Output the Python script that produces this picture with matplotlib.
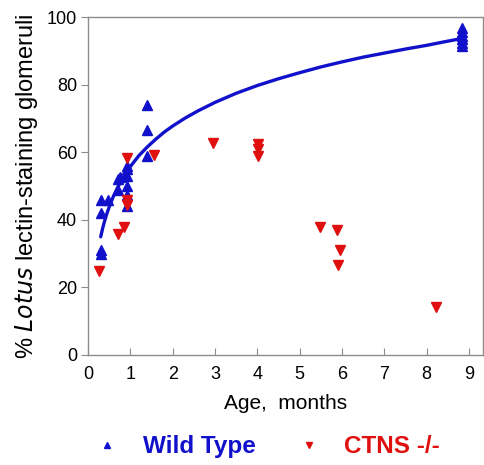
import matplotlib
matplotlib.use("Agg")
import matplotlib.pyplot as plt
from matplotlib.lines import Line2D

plt.rcParams['font.family'] = ['Liberation Sans', 'DejaVu Sans']

# Wild type (triangles up)
wt_age = [0.30, 0.30, 0.30, 0.30, 0.47, 0.70, 0.70, 0.76, 0.92, 0.92, 0.92,
          0.92, 0.92, 0.92, 1.39, 1.39, 1.39,
          8.83, 8.83, 8.83, 8.83, 8.83, 8.83]
wt_val = [30, 31, 42, 46, 46, 49, 52, 52.6, 53, 55.2, 56, 50, 47.3, 44,
          74, 66.5, 58.8,
          91.5, 92.5, 93.5, 94.5, 95.5, 96.8]

# CTNS -/- (triangles down)
ko_age = [0.27, 0.70, 0.86, 0.92, 0.92, 0.92, 1.55, 2.95, 4.02, 4.02, 4.02,
          5.49, 5.88, 5.96, 5.91, 8.22]
ko_val = [25, 35.7, 38, 58.2, 46, 44.5, 59.2, 62.8, 62.6, 61, 59,
          38, 37, 31, 26.6, 14.3]

# fitted curve
fit_age = [0.30, 0.35, 0.40, 0.45, 0.50, 0.60, 0.70, 0.80, 0.90, 1.0,
           1.2, 1.4, 1.6, 1.8, 2.0, 2.3, 2.6, 3.0, 3.5, 4.0, 4.5, 5.0,
           5.5, 6.0, 6.5, 7.0, 7.5, 8.0, 8.4, 8.78]
fit_val = [35.0, 37.7, 40.0, 42.0, 43.8, 47.0, 49.6, 51.9, 53.9, 55.8,
           59.0, 61.6, 63.9, 66.0, 67.8, 70.2, 72.3, 74.8, 77.5, 79.8, 81.8, 83.6,
           85.3, 86.8, 88.2, 89.4, 90.6, 91.7, 92.7, 93.6]

blue = '#1111cc'
red = '#e01010'
grey = '#8c8c8c'

fig = plt.figure(figsize=(4.84, 4.65), dpi=100)
ax = fig.add_axes([0.1818, 0.2366, 0.8162, 0.7262])

ax.plot(fit_age, fit_val, color=blue, linewidth=2.4, zorder=2,
        solid_joinstyle='round', solid_capstyle='round')
ax.plot(wt_age, wt_val, linestyle='none', marker='^', markersize=6.5,
        color=blue, zorder=3)
ax.plot(ko_age, ko_val, linestyle='none', marker='v', markersize=6.5,
        color=red, zorder=3)

ax.set_xlim(0, 9.33)
ax.set_ylim(0, 100)
ax.set_xticks(range(0, 10))
ax.set_yticks(range(0, 101, 20))

for s in ax.spines.values():
    s.set_color(grey)
    s.set_linewidth(1.0)

ax.tick_params(axis='x', direction='in', length=5, color=grey, labelsize=13, pad=8)
ax.tick_params(axis='y', direction='out', length=5, color=grey, labelsize=13, pad=3)

ax.set_xlabel('Age,  months', fontsize=15, labelpad=8)
ax.set_ylabel('% $\\it{Lotus}$ lectin-staining glomeruli', fontsize=17, labelpad=5)

handles = [Line2D([], [], linestyle='none', marker='^', markersize=5, color=blue),
           Line2D([], [], linestyle='none', marker='v', markersize=5, color=red)]
leg = fig.legend(handles, ['Wild Type', 'CTNS -/-'], loc='center',
                 bbox_to_anchor=(0.553, 0.039), ncol=2, frameon=False,
                 prop={'size': 17.5, 'weight': 'bold'}, handlelength=1.0,
                 handletextpad=0.95, columnspacing=1.7)
for t, c in zip(leg.get_texts(), [blue, red]):
    t.set_color(c)

fig.savefig('out.png', dpi=100)
